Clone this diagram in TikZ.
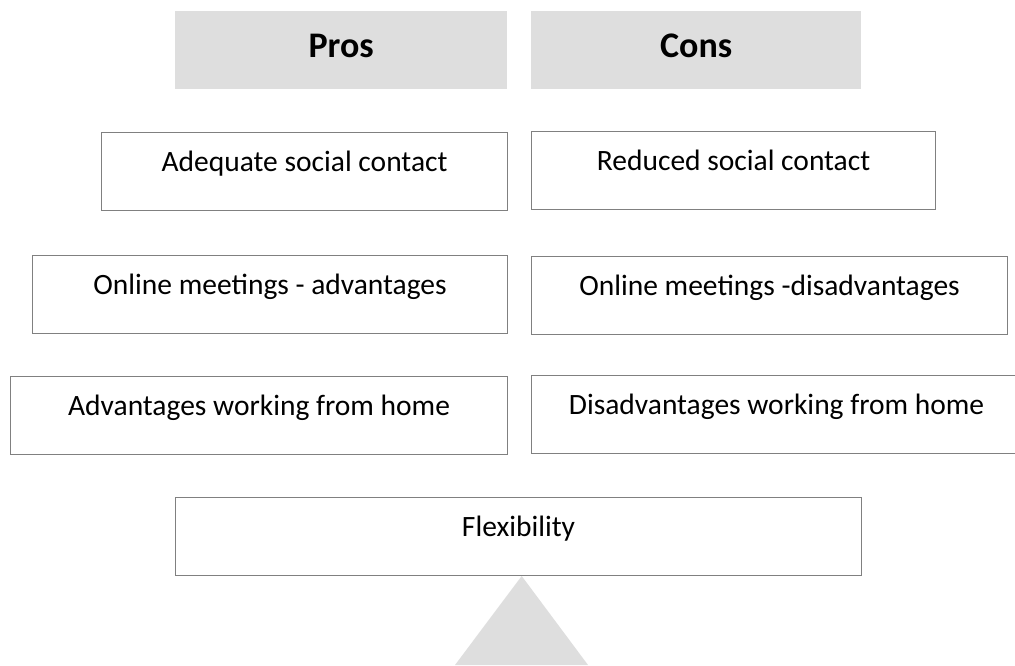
\documentclass[tikz,border=0pt]{standalone}
\usepackage{fontspec}
\setmainfont{Carlito}
\usepackage{tikz}
\usetikzlibrary{positioning,calc}

\begin{document}
\begin{tikzpicture}[x=1pt,y=-1pt,
  head/.style={fill=black!13,anchor=north west,minimum height=78pt,inner sep=0pt,text height=30pt,text depth=16pt,font=\fontsize{36}{40}\selectfont\bfseries},
  box/.style={draw=black!50,line width=1.1pt,fill=white,anchor=north west,minimum height=78pt,inner sep=0pt,text height=20pt,text depth=20pt,font=\fontsize{29.5}{33}\selectfont},
  fulcrum/.style={fill=black!13}]
\path[use as bounding box,fill=white] (0,0) rectangle (1015,665);
% column heads
\node[head,minimum width=332pt] (pros) at (175,11) {Pros};
\node[head,minimum width=330pt] (cons) at (531,11) {Cons};
% balance beam and fulcrum
\coordinate (apex) at (521.7,576);
\fill[fulcrum] (apex) -- (455,665) -- (588,665) -- cycle;
\node[box,minimum width=686pt] (flex) at (175,497) {Flexibility};
% pros column
\node[box,minimum width=406pt] (adeq) at (101,132) {Adequate social contact};
\node[box,minimum width=475pt] (omadv) at (32,255) {Online meetings - advantages};
\node[box,minimum width=497pt] (whadv) at (10,376) {Advantages working from home};
% cons column
\node[box,minimum width=404pt] (redu) at (531,131) {Reduced social contact};
\node[box,minimum width=476pt] (omdis) at (531,256) {Online meetings -disadvantages};
\node[box,minimum width=490pt] (whdis) at (531,375) {Disadvantages working from home};
\end{tikzpicture}
\end{document}
